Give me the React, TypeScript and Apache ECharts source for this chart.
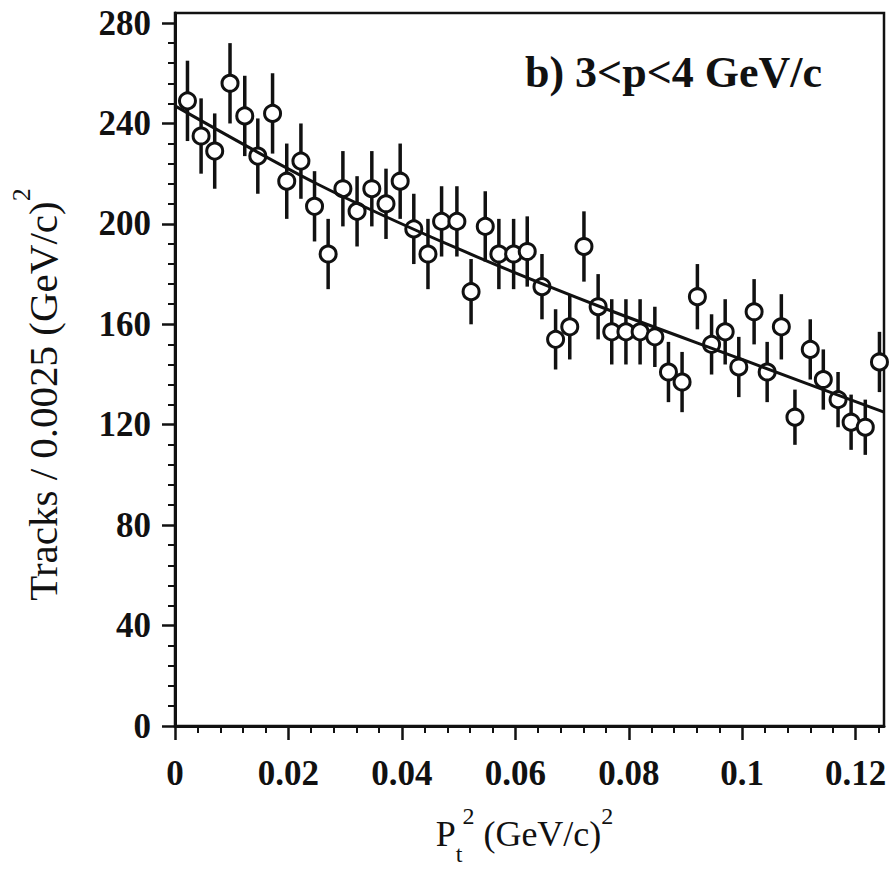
import React, { useEffect, useRef } from 'react';
import * as echarts from 'echarts';

// Pt^2 bin positions (GeV/c)^2
const ptSquared = [
  0.0022, 0.0046, 0.0070, 0.0097, 0.0123, 0.0146, 0.0172, 0.0197, 0.0222, 0.0246,
  0.0270, 0.0296, 0.0321, 0.0347, 0.0372, 0.0397, 0.0421, 0.0446, 0.0470, 0.0497,
  0.0522, 0.0547, 0.0571, 0.0597, 0.0621, 0.0647, 0.0671, 0.0696, 0.0721, 0.0746,
  0.0770, 0.0795, 0.0820, 0.0846, 0.0870, 0.0894, 0.0921, 0.0946, 0.0970, 0.0994,
  0.1021, 0.1044, 0.1069, 0.1093, 0.1120, 0.1143, 0.1169, 0.1192, 0.1217, 0.1242,
];
// Tracks per 0.0025 (GeV/c)^2
const tracks = [
  249, 235, 229, 256, 243, 227, 244, 217, 225, 207,
  188, 214, 205, 214, 208, 217, 198, 188, 201, 201,
  173, 199, 188, 188, 189, 175, 154, 159, 191, 167,
  157, 157, 157, 155, 141, 137, 171, 152, 157, 143,
  165, 141, 159, 123, 150, 138, 130, 121, 119, 145,
];
// Half-length of the error bars
const errors = [
  16, 15, 15, 16, 16, 15, 16, 15, 15, 14,
  14, 15, 14, 15, 14, 15, 14, 14, 14, 14,
  13, 14, 14, 14, 14, 13, 12, 13, 14, 13,
  13, 13, 13, 12, 12, 12, 13, 12, 13, 12,
  13, 12, 13, 11, 12, 12, 11, 11, 11, 12,
];
// Fitted curve
const fitX = [0, 0.025, 0.05, 0.075, 0.1, 0.125];
const fitY = [247, 216, 190, 167, 146, 125];

// Tick values
const xMajor = [0, 0.02, 0.04, 0.06, 0.08, 0.1, 0.12];
const xMinor = [
  0.004, 0.008, 0.012, 0.016, 0.024, 0.028, 0.032, 0.036, 0.044, 0.048, 0.052, 0.056,
  0.064, 0.068, 0.072, 0.076, 0.084, 0.088, 0.092, 0.096, 0.104, 0.108, 0.112, 0.116, 0.124,
];
const yMajor = [0, 40, 80, 120, 160, 200, 240, 280];
const yMinor = [
  8, 16, 24, 32, 48, 56, 64, 72, 88, 96, 104, 112, 128, 136, 144, 152,
  168, 176, 184, 192, 208, 216, 224, 232, 248, 256, 264, 272,
];

const FONT = '"Liberation Serif", "Times New Roman", serif';
const INK = '#111';

export default function App() {
  const ref = useRef<HTMLDivElement>(null);

  useEffect(() => {
    if (!ref.current) return;
    const chart = echarts.init(ref.current, null, { renderer: 'svg' });

    const near = (v: number, arr: number[]) => arr.some((a) => Math.abs(a - v) < 1e-9);

    const option: any = {
      animation: false,
      backgroundColor: '#fff',
      grid: {
        left: 168,
        right: 10,
        top: 13,
        bottom: 144,
        show: true,
        borderColor: INK,
        borderWidth: 2.5,
        backgroundColor: 'transparent',
      },
      xAxis: [
        {
          type: 'value',
          min: 0,
          max: 0.125,
          interval: 0.02,
          position: 'bottom',
          axisLine: { show: true, onZero: false, lineStyle: { color: INK, width: 3 } },
          axisTick: {
            show: true,
            inside: false,
            length: 14,
            customValues: xMajor,
            lineStyle: { color: INK, width: 2.5 },
          },
          axisLabel: {
            customValues: xMajor,
            formatter: (v: number) => (near(v, xMajor) ? String(v) : ''),
            fontFamily: FONT,
            fontSize: 35,
            fontWeight: 'bold',
            color: INK,
            margin: 30,
          },
          splitLine: { show: false },
          name: 'P{sub|t}{sup|2} (GeV/c){sup|2}',
          nameLocation: 'middle',
          nameGap: 90,
          nameTextStyle: {
            fontFamily: FONT,
            fontSize: 36,
            color: INK,
            padding: [0, 10, 0, 0],
            rich: {
              sub: { fontFamily: FONT, fontSize: 24, color: INK, verticalAlign: 'bottom', padding: [0, 0, -14, 0] },
              sup: { fontFamily: FONT, fontSize: 24, color: INK, verticalAlign: 'top', padding: [-12, 0, 0, 0] },
            },
          },
        },
        {
          type: 'value',
          min: 0,
          max: 0.125,
          interval: 0.004,
          position: 'bottom',
          axisLine: { show: false, onZero: false },
          axisTick: {
            show: true,
            inside: false,
            length: 7,
            customValues: xMinor,
            lineStyle: { color: INK, width: 2 },
          },
          axisLabel: { show: false },
          splitLine: { show: false },
        },
      ],
      yAxis: [
        {
          type: 'value',
          min: 0,
          max: 284,
          interval: 40,
          position: 'left',
          axisLine: { show: true, onZero: false, lineStyle: { color: INK, width: 3 } },
          axisTick: {
            show: true,
            inside: false,
            length: 13,
            customValues: yMajor,
            lineStyle: { color: INK, width: 2.5 },
          },
          axisLabel: {
            customValues: yMajor,
            formatter: (v: number) => (near(v, yMajor) ? String(v) : ''),
            fontFamily: FONT,
            fontSize: 35,
            fontWeight: 'bold',
            color: INK,
            margin: 24,
          },
          splitLine: { show: false },
          name: 'Tracks / 0.0025 (GeV/c){sup|2}',
          nameLocation: 'middle',
          nameGap: 112,
          nameTextStyle: {
            fontFamily: FONT,
            fontSize: 41,
            color: INK,
            padding: [0, 50, 0, 0],
            rich: {
              sup: { fontFamily: FONT, fontSize: 26, color: INK, verticalAlign: 'top', padding: [-14, 0, 0, 0] },
            },
          },
        },
        {
          type: 'value',
          min: 0,
          max: 284,
          interval: 8,
          position: 'left',
          axisLine: { show: false, onZero: false },
          axisTick: {
            show: true,
            inside: false,
            length: 7,
            customValues: yMinor,
            lineStyle: { color: INK, width: 2 },
          },
          axisLabel: { show: false },
          splitLine: { show: false },
        },
      ],
      graphic: [
        {
          type: 'text',
          left: 525,
          top: 50,
          style: {
            text: 'b) 3<p<4 GeV/c',
            font: `bold 44px ${FONT}`,
            fill: INK,
          },
        },
      ],
      series: [
        {
          type: 'custom',
          name: 'errors',
          xAxisIndex: 0,
          yAxisIndex: 0,
          z: 2,
          encode: { x: 0, y: [1, 2] },
          data: ptSquared.map((x, i) => [x, tracks[i] - errors[i], tracks[i] + errors[i]]),
          renderItem: (_params: any, api: any) => {
            const x = api.value(0);
            const p1 = api.coord([x, api.value(1)]);
            const p2 = api.coord([x, api.value(2)]);
            return {
              type: 'line',
              shape: { x1: p1[0], y1: p1[1], x2: p2[0], y2: p2[1] },
              style: { stroke: INK, lineWidth: 3.5 },
            };
          },
        },
        {
          type: 'scatter',
          name: 'data',
          xAxisIndex: 0,
          yAxisIndex: 0,
          z: 3,
          symbol: 'circle',
          symbolSize: 16,
          itemStyle: { color: '#fff', borderColor: INK, borderWidth: 3, opacity: 1 },
          data: ptSquared.map((x, i) => [x, tracks[i]]),
        },
        {
          type: 'line',
          name: 'fit',
          xAxisIndex: 0,
          yAxisIndex: 0,
          z: 4,
          showSymbol: false,
          symbol: 'none',
          smooth: 0.3,
          lineStyle: { color: INK, width: 3 },
          data: fitX.map((x, i) => [x, fitY[i]]),
        },
      ],
    };

    chart.setOption(option);
    return () => chart.dispose();
  }, []);

  return (
    <div
      ref={ref}
      style={{ position: 'fixed', left: 0, top: 0, width: 894, height: 871, background: '#fff' }}
    />
  );
}
